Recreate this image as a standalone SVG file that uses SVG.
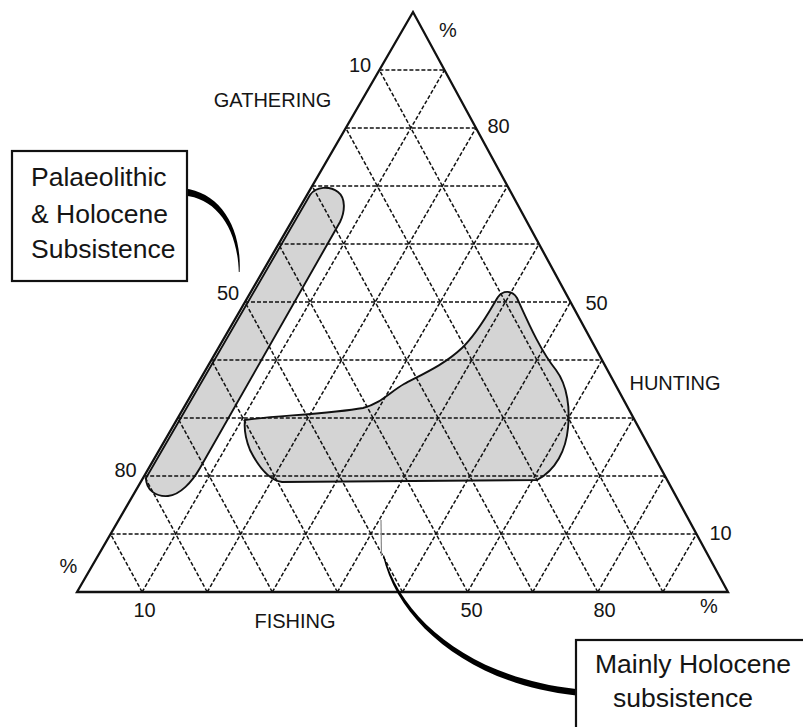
<svg xmlns="http://www.w3.org/2000/svg" width="803" height="727" viewBox="0 0 803 727">
<style>
  .bg { fill: #ffffff; }
  .tri { fill: none; stroke: #111; stroke-width: 2.3; stroke-linejoin: miter; }
  .grid line { stroke: #111; stroke-width: 1.5; stroke-dasharray: 4 2; }
  .blobfill { fill: #d4d4d4; stroke: none; }
  .blobline { fill: none; stroke: #111; stroke-width: 1.9; }
  .lbl { font-family: "Liberation Sans", Arial, sans-serif; font-size: 20px; fill: #151515; text-anchor: middle; }
  .boxtxt { font-family: "Liberation Sans", Arial, sans-serif; font-size: 26.5px; fill: #151515; }
  .box { fill: #fff; stroke: #111; stroke-width: 2.2; }
  .taper { fill: #000; stroke: none; }
</style>
<rect class="bg" x="0" y="0" width="803" height="727"/>

<g id="region-palaeolithic-fill">
  <path class="blobfill" d="M146,478 L310,195 C316,186 330,186 338,192 C346,198 345,212 340,222 L200,468 C192,482 180,495 168,496 C156,497 146,490 146,478 Z"/>
</g>
<g id="region-holocene-fill">
  <path class="blobfill" d="M245,420 C270,416 330,414 363,408 C380,404 390,392 404,384 C425,373 445,364 462,348 C478,333 490,310 498,297 C503,290 512,290 517,298 C528,322 540,350 556,370 C568,386 570,410 568,428 C566,450 556,470 537,480 L282,482 C268,480 258,466 250,450 C246,440 244,428 245,420 Z"/>
</g>

<g id="grid" class="grid">
  <line x1="110.6" y1="534" x2="696.5" y2="534"/>
  <line x1="144.2" y1="476" x2="665" y2="476"/>
  <line x1="177.8" y1="418" x2="633.5" y2="418"/>
  <line x1="211.4" y1="360" x2="602" y2="360"/>
  <line x1="245" y1="302" x2="570.5" y2="302"/>
  <line x1="278.6" y1="244" x2="539" y2="244"/>
  <line x1="312.2" y1="186" x2="507.5" y2="186"/>
  <line x1="345.8" y1="128" x2="476" y2="128"/>
  <line x1="379.4" y1="70" x2="444.5" y2="70"/>

  <line x1="142.1" y1="592" x2="444.5" y2="70"/>
  <line x1="207.2" y1="592" x2="476" y2="128"/>
  <line x1="272.3" y1="592" x2="507.5" y2="186"/>
  <line x1="337.4" y1="592" x2="539" y2="244"/>
  <line x1="402.5" y1="592" x2="570.5" y2="302"/>
  <line x1="467.6" y1="592" x2="602" y2="360"/>
  <line x1="532.7" y1="592" x2="633.5" y2="418"/>
  <line x1="597.8" y1="592" x2="665" y2="476"/>
  <line x1="662.9" y1="592" x2="696.5" y2="534"/>

  <line x1="142.1" y1="592" x2="110.6" y2="534"/>
  <line x1="207.2" y1="592" x2="144.2" y2="476"/>
  <line x1="272.3" y1="592" x2="177.8" y2="418"/>
  <line x1="337.4" y1="592" x2="211.4" y2="360"/>
  <line x1="402.5" y1="592" x2="245" y2="302"/>
  <line x1="467.6" y1="592" x2="278.6" y2="244"/>
  <line x1="532.7" y1="592" x2="312.2" y2="186"/>
  <line x1="597.8" y1="592" x2="345.8" y2="128"/>
  <line x1="662.9" y1="592" x2="379.4" y2="70"/>
</g>

<g id="region-palaeolithic">
  <path class="blobline" d="M146,478 L310,195 C316,186 330,186 338,192 C346,198 345,212 340,222 L200,468 C192,482 180,495 168,496 C156,497 146,490 146,478 Z"/>
</g>
<g id="region-holocene">
  <path class="blobline" d="M245,420 C270,416 330,414 363,408 C380,404 390,392 404,384 C425,373 445,364 462,348 C478,333 490,310 498,297 C503,290 512,290 517,298 C528,322 540,350 556,370 C568,386 570,410 568,428 C566,450 556,470 537,480 L282,482 C268,480 258,466 250,450 C246,440 244,428 245,420 Z"/>
</g>

<g id="triangle">
  <path class="tri" d="M77,592 L413,12 L728,592 Z"/>
</g>

<g id="axis-labels">
  <text class="lbl" x="448" y="37">%</text>
  <text class="lbl" x="360" y="72">10</text>
  <text class="lbl" x="498.5" y="133">80</text>
  <text class="lbl" x="272.5" y="107">GATHERING</text>
  <text class="lbl" x="228" y="300">50</text>
  <text class="lbl" x="596.5" y="310">50</text>
  <text class="lbl" x="675" y="390">HUNTING</text>
  <text class="lbl" x="125.5" y="477">80</text>
  <text class="lbl" x="68.5" y="573">%</text>
  <text class="lbl" x="144.5" y="617">10</text>
  <text class="lbl" x="295" y="628">FISHING</text>
  <text class="lbl" x="471.5" y="617">50</text>
  <text class="lbl" x="604.5" y="617">80</text>
  <text class="lbl" x="709" y="613">%</text>
  <text class="lbl" x="720.5" y="540">10</text>
</g>

<g id="connectors">
  <path class="taper" d="M184,188.5 C219,192 242,226 239.6,272 L238.8,272 C237.5,228 216,198 184,195.5 Z"/>
  <line x1="381" y1="520" x2="381.5" y2="556" stroke="#888" stroke-width="1.2"/>
  <path class="taper" d="M384,555 C401,619 471,678 576,689 L576,695.5 C469,684 398,622 383,556 Z"/>
</g>

<g id="box-palaeolithic">
  <rect class="box" x="12" y="151" width="175" height="130"/>
  <text class="boxtxt" x="31" y="186">Palaeolithic</text>
  <text class="boxtxt" x="31" y="223">&amp; Holocene</text>
  <text class="boxtxt" x="31" y="258">Subsistence</text>
</g>

<g id="box-holocene">
  <rect class="box" x="576" y="640" width="300" height="200"/>
  <text class="boxtxt" x="595" y="673">Mainly Holocene</text>
  <text class="boxtxt" x="613" y="707">subsistence</text>
</g>
</svg>
